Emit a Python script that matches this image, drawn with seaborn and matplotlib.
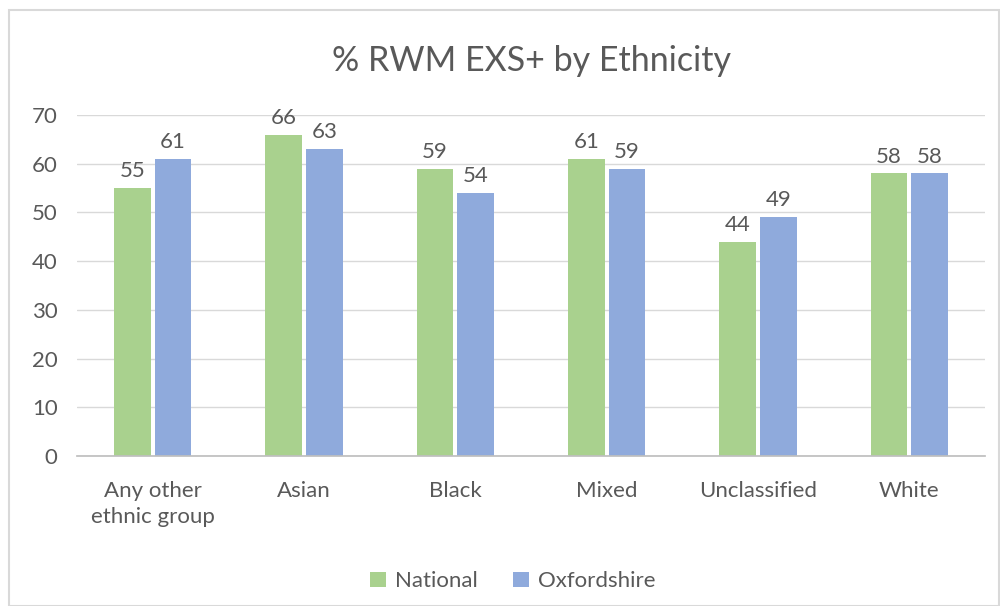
import pandas as pd
import seaborn as sns
import matplotlib.pyplot as plt
from matplotlib.patches import Rectangle


# data

groups = ['Any other\nethnic group', 'Asian', 'Black', 'Mixed', 'Unclassified', 'White']
national = [55, 66, 59, 61, 44, 58]
oxfordshire = [61, 63, 54, 59, 49, 58]

df = pd.DataFrame({
    'Ethnicity': groups * 2,
    'Value': national + oxfordshire,
    'Area': ['National'] * len(groups) + ['Oxfordshire'] * len(groups)
})

sns.set_theme(style='white')
plt.rcParams['font.family'] = ['Lato', 'DejaVu Sans']

grey = '#595959'
fs = 16

fig = plt.figure(figsize=(10, 6.06), dpi=100)
ax = fig.add_axes([0.077, 0.2475, 0.908, 0.5627])

sns.barplot(data=df, x='Ethnicity', y='Value', hue='Area',
            palette=['#A9D18E', '#8FAADC'], width=0.54, gap=0.1,
            saturation=1, linewidth=0, ax=ax, zorder=3)

for c in ax.containers:
    ax.bar_label(c, fontsize=fs, color=grey, padding=5)

ax.set_ylim(0, 70)
ax.set_yticks(range(0, 71, 10))
ax.yaxis.grid(True, color='#D9D9D9', linewidth=1, zorder=0)
ax.set_xlabel('')
ax.set_ylabel('')
ax.tick_params(axis='both', labelsize=fs, colors=grey, length=0)
ax.tick_params(axis='x', pad=18)
ax.tick_params(axis='y', pad=14)
for lbl in ax.get_xticklabels():
    lbl.set_linespacing(1.4)
for s in ['top', 'right', 'left']:
    ax.spines[s].set_visible(False)
ax.spines['bottom'].set_color('#BFBFBF')
ax.spines['bottom'].set_zorder(4)

ax.set_title('% RWM EXS+ by Ethnicity', fontsize=24.5, color=grey, pad=32)

ax.legend(loc='upper center', bbox_to_anchor=(0.48, -0.28), ncol=2,
          frameon=False, fontsize=fs, labelcolor=grey,
          handlelength=0.7, handleheight=0.7, handletextpad=0.4, columnspacing=1.6)

# outer chart border
fig.patches.append(Rectangle((0.009, 0.0), 0.99, 0.983, transform=fig.transFigure,
                             fill=False, edgecolor='#D9D9D9', linewidth=1.5))

fig.savefig('out.png', dpi=100)
